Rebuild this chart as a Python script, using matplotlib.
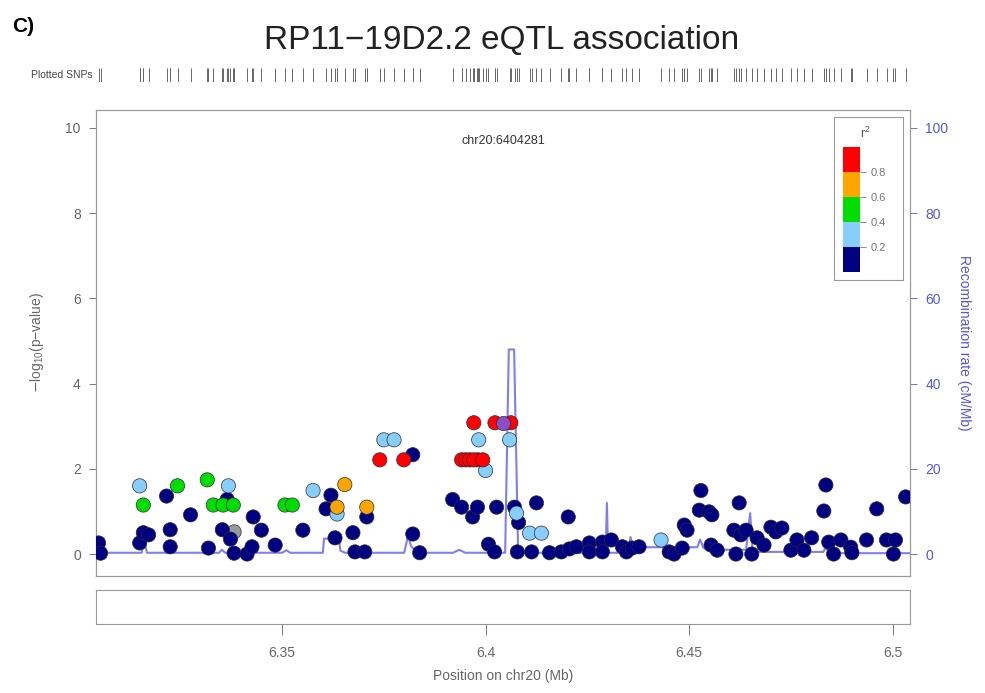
import numpy as np
import matplotlib.pyplot as plt
from matplotlib.colors import ListedColormap, BoundaryNorm
from matplotlib.cm import ScalarMappable

plt.rcParams['font.family'] = ['Liberation Sans', 'DejaVu Sans']

# lead variant
lead_name = 'chr20:6404281'
lead_pos = 6.404281
lead_logp = 3.08

# SNP positions (Mb), -log10(p) and r^2 with the lead SNP (nan = no LD info)
snp_pos = [
    6.3049, 6.3054, 6.3150, 6.3150, 6.3159, 6.3159, 6.3172, 6.3216, 6.3225, 6.3225,
    6.3243, 6.3275, 6.3316, 6.3319, 6.3331, 6.3353, 6.3355, 6.3365, 6.3368, 6.3373,
    6.3380, 6.3382, 6.3382, 6.3414, 6.3426, 6.3429, 6.3449, 6.3483, 6.3507, 6.3525,
    6.3551, 6.3576, 6.3608, 6.3620, 6.3630, 6.3635, 6.3635, 6.3654, 6.3674, 6.3679,
    6.3703, 6.3708, 6.3708, 6.3740, 6.3750, 6.3775, 6.3799, 6.3821, 6.3821, 6.3838,
    6.3919, 6.3941, 6.3941, 6.3951, 6.3961, 6.3968, 6.3971, 6.3980, 6.3981, 6.3983,
    6.4000, 6.4007, 6.4022, 6.4023, 6.4027, 6.4059, 6.4062, 6.4071, 6.4076, 6.4078,
    6.4081, 6.4108, 6.4113, 6.4125, 6.4137, 6.4157, 6.4186, 6.4203, 6.4206, 6.4223,
    6.4255, 6.4255, 6.4287, 6.4287, 6.4309, 6.4336, 6.4346, 6.4360, 6.4377, 6.4431,
    6.4451, 6.4463, 6.4483, 6.4488, 6.4495, 6.4525, 6.4529, 6.4549, 6.4554, 6.4556,
    6.4569, 6.4610, 6.4615, 6.4623, 6.4627, 6.4640, 6.4654, 6.4667, 6.4684, 6.4701,
    6.4713, 6.4728, 6.4750, 6.4765, 6.4782, 6.4801, 6.4831, 6.4836, 6.4843, 6.4855,
    6.4873, 6.4897, 6.4900, 6.4936, 6.4961, 6.4985, 6.5002, 6.5007, 6.5032,
    6.3971, 6.3993,
]
snp_logp = [
    0.26, 0.02, 0.26, 1.60, 1.15, 0.50, 0.45, 1.36, 0.57, 0.17,
    1.60, 0.92, 1.74, 0.14, 1.15, 0.57, 1.15, 1.28, 1.60, 0.35,
    1.15, 0.52, 0.02, 0.00, 0.17, 0.87, 0.56, 0.21, 1.15, 1.15,
    0.56, 1.49, 1.06, 1.38, 0.38, 1.10, 0.94, 1.63, 0.50, 0.05,
    0.05, 1.10, 0.87, 2.21, 2.68, 2.68, 2.21, 2.33, 0.47, 0.03,
    1.28, 1.10, 2.21, 2.21, 2.21, 0.87, 3.08, 1.10, 2.21, 2.68,
    1.96, 0.23, 0.05, 3.08, 1.10, 2.68, 3.08, 1.10, 0.96, 0.05,
    0.74, 0.49, 0.05, 1.20, 0.49, 0.03, 0.05, 0.87, 0.12, 0.17,
    0.26, 0.05, 0.28, 0.05, 0.33, 0.17, 0.05, 0.14, 0.17, 0.33,
    0.05, 0.00, 0.14, 0.68, 0.56, 1.03, 1.49, 0.99, 0.21, 0.92,
    0.09, 0.56, 0.00, 1.20, 0.45, 0.56, 0.00, 0.38, 0.21, 0.63,
    0.52, 0.61, 0.09, 0.33, 0.09, 0.38, 1.01, 1.62, 0.28, 0.00,
    0.33, 0.16, 0.03, 0.33, 1.06, 0.33, 0.00, 0.33, 1.34,
    2.21, 2.21,
]
snp_r2 = [
    0.05, 0.05, 0.05, 0.30, 0.50, 0.05, 0.05, 0.05, 0.05, 0.05,
    0.50, 0.05, 0.50, 0.05, 0.50, 0.05, 0.50, 0.05, 0.30, 0.05,
    0.50, np.nan, 0.05, 0.05, 0.05, 0.05, 0.05, 0.05, 0.50, 0.50,
    0.05, 0.30, 0.05, 0.05, 0.05, 0.70, 0.30, 0.70, 0.05, 0.05,
    0.05, 0.70, 0.05, 0.90, 0.30, 0.30, 0.90, 0.05, 0.05, 0.05,
    0.05, 0.05, 0.90, 0.90, 0.90, 0.05, 0.90, 0.05, 0.90, 0.30,
    0.30, 0.05, 0.05, 0.90, 0.05, 0.30, 0.90, 0.05, 0.30, 0.05,
    0.05, 0.30, 0.05, 0.05, 0.30, 0.05, 0.05, 0.05, 0.05, 0.05,
    0.05, 0.05, 0.05, 0.05, 0.05, 0.05, 0.05, 0.05, 0.05, 0.30,
    0.05, 0.05, 0.05, 0.05, 0.05, 0.05, 0.05, 0.05, 0.05, 0.05,
    0.05, 0.05, 0.05, 0.05, 0.05, 0.05, 0.05, 0.05, 0.05, 0.05,
    0.05, 0.05, 0.05, 0.05, 0.05, 0.05, 0.05, 0.05, 0.05, 0.05,
    0.05, 0.05, 0.05, 0.05, 0.05, 0.05, 0.05, 0.05, 0.05,
    0.90, 0.90,
]

# recombination rate (cM/Mb)
recomb_pos = [
    6.3040, 6.3155, 6.3158, 6.3163, 6.3168, 6.3345, 6.3352, 6.3360, 6.3500, 6.3510,
    6.3520, 6.3600, 6.3603, 6.3640, 6.3643, 6.3655, 6.3800, 6.3810, 6.3816, 6.3830,
    6.3920, 6.3935, 6.3950, 6.4048, 6.4057, 6.4070, 6.4080, 6.4295, 6.4298, 6.4301,
    6.4350, 6.4356, 6.4362, 6.4370, 6.4520, 6.4527, 6.4535, 6.4545, 6.4640, 6.4650,
    6.4656, 6.4670, 6.4830, 6.4835, 6.4845, 6.5045,
]
recomb_rate = [
    0.3, 0.3, 2.2, 2.2, 0.3, 0.3, 1.0, 0.3, 0.3, 0.9,
    0.3, 0.3, 3.6, 3.6, 0.8, 0.3, 0.3, 4.5, 2.0, 0.3,
    0.3, 1.0, 0.3, 0.3, 48.0, 48.0, 0.3, 0.3, 12.0, 0.3,
    0.3, 4.0, 1.0, 1.6, 1.6, 3.4, 1.5, 1.0, 1.0, 9.6,
    0.6, 0.5, 0.5, 1.5, 0.2, 0.2,
]

ld_colors = ['#000080', '#87CEFA', '#00DD00', '#FFA500', '#FF0000']
ld_bounds = [0, 0.2, 0.4, 0.6, 0.8, 1.0]
cmap = ListedColormap(ld_colors)
cmap.set_bad('#999999')
norm = BoundaryNorm(ld_bounds, cmap.N)

xlim = (lead_pos - 0.1, lead_pos + 0.1)
ylim = (-0.516, 10.42)
grey = '#666666'
blue = '#5555E8'

fig = plt.figure(figsize=(9.85, 6.93), dpi=100)

# main association panel
ax = fig.add_axes([0.0975, 0.1688, 0.8264, 0.6725])
ax2 = ax.twinx()
ax.set_zorder(ax2.get_zorder() + 1)
ax.patch.set_visible(False)

ax2.plot(recomb_pos, recomb_rate, color=blue, lw=1.5, alpha=0.75)
ax2.set_ylim(ylim[0] * 10, ylim[1] * 10)
ax2.set_yticks(range(0, 101, 20))
ax2.tick_params(axis='y', colors=blue, labelsize=10, length=5, width=0.6, pad=6)
ax2.set_ylabel('Recombination rate (cM/Mb)', color=blue, fontsize=10,
               rotation=270, labelpad=16)

pos = np.array(snp_pos)
logp = np.array(snp_logp)
r2 = np.array(snp_r2)
order = np.argsort(np.nan_to_num(r2, nan=-1), kind='stable')
ax.scatter(pos[order], logp[order], c=r2[order], cmap=cmap, norm=norm,
           plotnonfinite=True, s=105, edgecolors='#2a2a3a', linewidths=0.5, zorder=3)
ax.scatter([lead_pos], [lead_logp], color='#8A4FC8', s=105,
           edgecolors='#2a2a3a', linewidths=0.5, zorder=4)
ax.text(lead_pos, 9.7, lead_name, ha='center', va='center', fontsize=9, color='#333333')

ax.set_xlim(xlim)
ax.set_ylim(ylim)
ax.set_yticks(range(0, 11, 2))
ax.set_xticks([])
ax.tick_params(axis='y', colors=grey, labelsize=10, length=5, width=0.6, pad=6)
ax.set_ylabel(r'$-\mathregular{log_{10}(p{-}value)}$', color=grey, fontsize=10, labelpad=14)
for a in (ax, ax2):
    for s in a.spines.values():
        s.set_color('#999999')
        s.set_linewidth(0.8)

# r^2 legend
box = fig.add_axes([0.8467, 0.596, 0.070, 0.235])
box.set_xticks([])
box.set_yticks([])
for s in box.spines.values():
    s.set_color('#999999')
    s.set_linewidth(0.8)
box.text(0.45, 0.9, r'$\mathregular{r^2}$', transform=box.transAxes, ha='center',
         va='center', fontsize=9, color='#555555')
box.set_zorder(5)
cax = fig.add_axes([0.8558, 0.6075, 0.01726, 0.1804])
cax.set_zorder(6)
cb = fig.colorbar(ScalarMappable(norm=norm, cmap=cmap), cax=cax,
                  ticks=[0.2, 0.4, 0.6, 0.8])
cb.outline.set_visible(False)
cb.ax.minorticks_off()
cb.ax.tick_params(labelsize=8, colors='#777777', length=4, width=0.6)

# plotted SNP rug
rug = fig.add_axes([0.0975, 0.882, 0.8264, 0.020])
rug.vlines(snp_pos, 0, 1, color='#666666', lw=0.7)
rug.set_xlim(xlim)
rug.set_ylim(0, 1)
rug.axis('off')
fig.text(0.094, 0.892, 'Plotted SNPs', ha='right', va='center', fontsize=7.5, color='#444444')

# gene panel (empty)
genes = fig.add_axes([0.0975, 0.0996, 0.8264, 0.049])
genes.set_xlim(xlim)
genes.set_yticks([])
genes.set_xticks([6.35, 6.4, 6.45, 6.5])
genes.set_xticklabels(['6.35', '6.4', '6.45', '6.5'])
genes.tick_params(axis='x', colors=grey, labelsize=10, length=8, width=0.6, pad=8)
for s in genes.spines.values():
    s.set_color('#999999')
    s.set_linewidth(0.8)
genes.set_xlabel('Position on chr20 (Mb)', color=grey, fontsize=10, labelpad=6)

fig.text(0.509, 0.942, 'RP11\u221219D2.2 eQTL association', ha='center', va='center',
         fontsize=24, color='#222222')
fig.text(0.012, 0.962, 'C)', ha='left', va='center', fontsize=15, fontweight='bold')

fig.savefig('out.png', dpi=100)
